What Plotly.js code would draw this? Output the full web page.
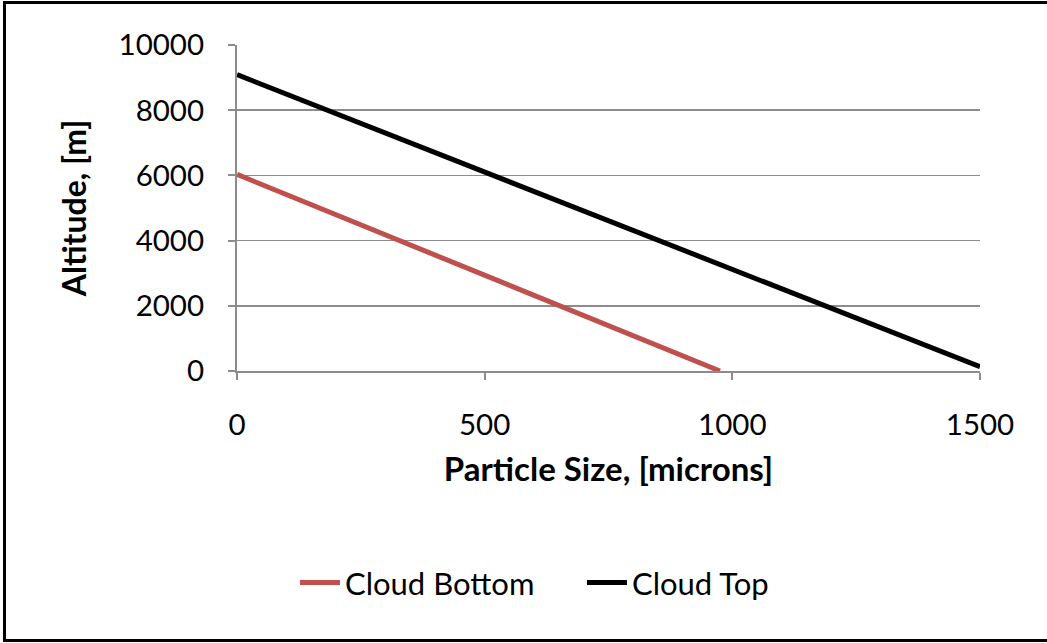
<!DOCTYPE html>
<html>
<head>
<meta charset="utf-8">
<script src="https://cdn.plot.ly/plotly-3.0.1.min.js"></script>
<style>
  html, body { margin: 0; padding: 0; background: #fff; }
  #wrap { position: relative; width: 1047px; height: 643px; overflow: hidden; }
  #chart { position: absolute; left: 0; top: 0; width: 1047px; height: 643px; }
  #frame { position: absolute; left: 3px; top: 1px; width: 1050px; height: 641px;
           border: 3px solid #000; box-sizing: border-box; pointer-events: none; }
</style>
</head>
<body>
<div id="wrap">
  <div id="chart"></div>
  <div id="frame"></div>
</div>
<script>
const seriesNames = ["Cloud Bottom", "Cloud Top"];
const bottomSize = [0, 975];
const bottomAlt = [6030, 0];
const topSize = [0, 1500];
const topAlt = [9090, 130];
const xTicks = [0, 500, 1000, 1500];
const yTicks = [0, 2000, 4000, 6000, 8000, 10000];

const fontFam = "Lato, 'Open Sans', sans-serif";

const traces = [
  { x: bottomSize, y: bottomAlt, name: seriesNames[0], mode: "lines", type: "scatter",
    line: { color: "#c0504d", width: 5 }, cliponaxis: false },
  { x: topSize, y: topAlt, name: seriesNames[1], mode: "lines", type: "scatter",
    line: { color: "#000000", width: 5 }, cliponaxis: false }
];

const layout = {
  width: 1047, height: 643,
  margin: { l: 237, r: 67, t: 45, b: 272, pad: 0 },
  paper_bgcolor: "rgba(0,0,0,0)", plot_bgcolor: "#fff",
  font: { family: fontFam, size: 29.5, color: "#000" },
  showlegend: true,
  legend: { orientation: "h", x: 0.078, xanchor: "left", y: -0.65, yanchor: "middle",
            font: { family: fontFam, size: 31, color: "#000" }, itemwidth: 40,
            entrywidth: 232, entrywidthmode: "pixels", tracegroupgap: 0 },
  xaxis: {
    range: [0, 1500], tickvals: xTicks, ticktext: xTicks.map(String),
    showgrid: false, zeroline: false, showline: true, linecolor: "#8c8c8c", linewidth: 2,
    ticks: "outside", ticklen: 7, tickwidth: 2, tickcolor: "#8c8c8c",
    ticklabelstandoff: 20,
    title: { text: "<b>Particle Size, [microns]</b>", font: { family: fontFam, size: 33, color: "#000" }, standoff: 17 },
    automargin: false
  },
  yaxis: {
    range: [0, 10000], tickvals: yTicks, ticktext: yTicks.map(String),
    showgrid: true, gridcolor: "#8c8c8c", gridwidth: 1.5,
    zeroline: false, showline: true, linecolor: "#8c8c8c", linewidth: 2,
    ticks: "outside", ticklen: 7, tickwidth: 2, tickcolor: "#8c8c8c",
    ticklabelstandoff: 18,
    title: { text: "<b>Altitude, [m]</b>", font: { family: fontFam, size: 32, color: "#000" }, standoff: 22 },
    automargin: false
  }
};

Plotly.newPlot("chart", traces, layout, { staticPlot: true, displayModeBar: false });
</script>
</body>
</html>
